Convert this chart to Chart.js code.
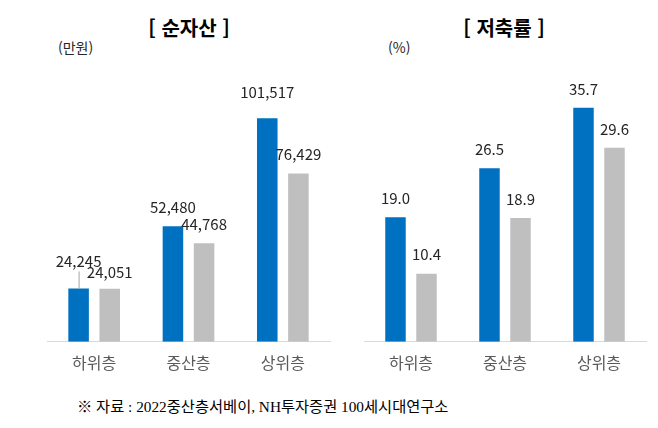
<!DOCTYPE html>
<html lang="ko">
<head>
<meta charset="utf-8">
<script src="https://cdn.jsdelivr.net/npm/chart.js@4.4.1/dist/chart.umd.min.js"></script>
<style>
  html, body { margin: 0; padding: 0; background: #fff; }
  body { width: 658px; height: 428px; position: relative; overflow: hidden;
         font-family: "Noto Sans CJK KR", "Noto Sans", sans-serif; }
  .title { position: absolute; top: 16px; font-size: 20px; font-weight: bold; color: #000;
           transform: translateX(-50%); white-space: nowrap; line-height: 24px; }
  .unit { position: absolute; top: 37px; font-size: 14px; color: #262626; line-height: 20px; }
  .box { position: absolute; top: 0; height: 385px; }
  #note { position: absolute; left: 77px; top: 397px; font-size: 15.3px; color: #000;
          font-family: "Liberation Serif", "Noto Sans CJK KR", serif; white-space: nowrap; line-height: 20px; }
</style>
</head>
<body>
<div class="title" style="left:189px">[ 순자산 ]</div>
<div class="unit" style="left:58px">(만원)</div>
<div class="title" style="left:504px">[ 저축률 ]</div>
<div class="unit" style="left:388px">(%)</div>

<div class="box" style="left:0; width:340px"><canvas id="asset"></canvas></div>
<div class="box" style="left:340px; width:318px"><canvas id="saving"></canvas></div>

<div id="note">※ 자료 : 2022중산층서베이, NH투자증권 100세시대연구소</div>

<script>
// 계층 구분
const groups = ["하위층", "중산층", "상위층"];

// 순자산 (만원)
const assetBlue = [24245, 52480, 101517];
const assetGray = [24051, 44768, 76429];

// 저축률 (%)
const savingBlue = [19.0, 26.5, 35.7];
const savingGray = [10.4, 18.9, 29.6];

const BLUE = "#0070c0";
const GRAY = "#bfbfbf";

// 막대 위 숫자 표시
const valueLabels = {
    id: "valueLabels",
    afterDatasetsDraw(chart, args, opts) {
        const ctx = chart.ctx;
        ctx.save();
        ctx.font = "15px 'Noto Sans CJK KR', 'Noto Sans', sans-serif";
        ctx.fillStyle = "#262626";
        ctx.textAlign = "center";
        ctx.textBaseline = "middle";
        chart.data.datasets.forEach((ds, di) => {
            chart.getDatasetMeta(di).data.forEach((bar, i) => {
                const key = di + "-" + i;
                const extra = (opts.lift && opts.lift[key]) || 0;
                const y = bar.y - 19 - extra;
                if (opts.leader && opts.leader[key]) {
                    ctx.strokeStyle = "#a6a6a6";
                    ctx.lineWidth = 1;
                    ctx.beginPath();
                    ctx.moveTo(bar.x + 0.5, y + 10);
                    ctx.lineTo(bar.x + 0.5, bar.y);
                    ctx.stroke();
                }
                ctx.fillText(opts.format(ds.data[i]), bar.x, y);
            });
        });
        ctx.restore();
    },
};

function makeChart(id, blue, gray, max, padL, padR, labelOpts) {
    return new Chart(document.getElementById(id), {
        type: "bar",
        data: {
            labels: groups,
            datasets: [
                { data: blue, backgroundColor: BLUE, categoryPercentage: 0.66, barPercentage: 0.66 },
                { data: gray, backgroundColor: GRAY, categoryPercentage: 0.66, barPercentage: 0.66 },
            ],
        },
        options: {
            responsive: true,
            maintainAspectRatio: false,
            animation: false,
            layout: { padding: { left: padL, right: padR, top: 60, bottom: 0 } },
            scales: {
                x: {
                    grid: { display: false, drawTicks: false },
                    border: { display: true, color: "#d9d9d9", width: 1 },
                    ticks: {
                        padding: 12,
                        color: "#595959",
                        font: { size: 16, family: "'Noto Sans CJK KR', sans-serif" },
                    },
                },
                y: { display: false, min: 0, max: max },
            },
            plugins: {
                legend: { display: false },
                tooltip: { enabled: false },
                valueLabels: labelOpts,
            },
        },
        plugins: [valueLabels],
    });
}

makeChart("asset", assetBlue, assetGray, 128000, 47, 10, {
    format: (v) => v.toLocaleString("en-US"),
    lift: { "0-0": 8, "0-2": 7, "1-0": -2 },
    leader: { "0-0": true },
});

makeChart("saving", savingBlue, savingGray, 43, 24, 12, {
    format: (v) => v.toFixed(1),
    lift: {},
    leader: {},
});
</script>
</body>
</html>
